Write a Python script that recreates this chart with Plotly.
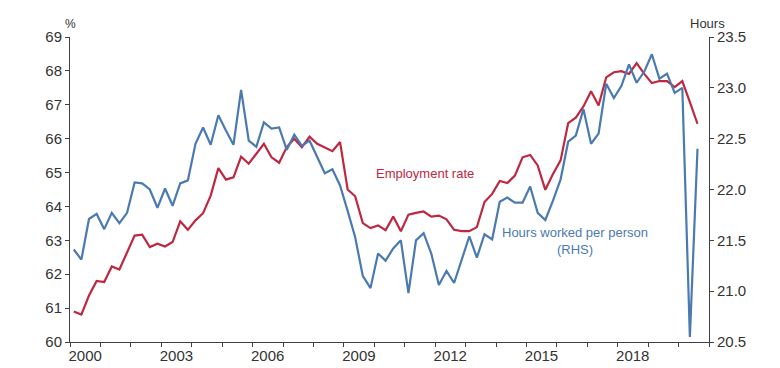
import pandas as pd
import plotly.graph_objects as go

# Quarterly observations, Q1 2000 to Q3 2020
quarters = pd.period_range("2000Q1", "2020Q3", freq="Q")

employment_rate = [
    60.90, 60.81, 61.37, 61.80, 61.77, 62.23, 62.14, 62.62, 63.14, 63.17, 62.80, 62.90, 62.82, 62.95,
    63.56, 63.31, 63.59, 63.80, 64.32, 65.13, 64.79, 64.86, 65.47, 65.26, 65.57, 65.85, 65.45, 65.29,
    65.75, 66.00, 65.75, 66.06, 65.85, 65.75, 65.63, 65.90, 64.50, 64.30, 63.51, 63.36, 63.44, 63.30,
    63.70, 63.27, 63.76, 63.81, 63.85, 63.70, 63.73, 63.62, 63.31, 63.27, 63.27, 63.39, 64.13, 64.37,
    64.75, 64.69, 64.91, 65.45, 65.52, 65.21, 64.49, 64.96, 65.36, 66.46, 66.62, 66.95, 67.40,
    66.98, 67.81, 67.96, 67.99, 67.91, 68.23, 67.91, 67.64, 67.70, 67.70, 67.52, 67.70, 67.08, 66.44,
]

hours_per_person = [
    21.41, 21.31, 21.71, 21.76, 21.61, 21.77, 21.67, 21.77, 22.07, 22.06, 22.00, 21.82, 22.01, 21.84,
    22.06, 22.09, 22.45, 22.61, 22.44, 22.73, 22.58, 22.44, 22.98, 22.48, 22.42, 22.66, 22.60, 22.61,
    22.39, 22.54, 22.43, 22.48, 22.32, 22.16, 22.20, 22.04, 21.79, 21.53, 21.15, 21.03, 21.37, 21.30,
    21.42, 21.50, 20.98, 21.50, 21.57, 21.37, 21.06, 21.20, 21.08, 21.30, 21.54, 21.33, 21.56, 21.51,
    21.88, 21.92, 21.87, 21.87, 22.03, 21.77, 21.70, 21.89, 22.10, 22.47, 22.53, 22.79, 22.45,
    22.55, 23.04, 22.90, 23.02, 23.23, 23.05, 23.16, 23.33, 23.09, 23.14, 22.95, 23.00, 20.55, 22.40,
]

year_labels = ["2000", "2003", "2006", "2009", "2012", "2015", "2018"]
left_ticks = [60, 61, 62, 63, 64, 65, 66, 67, 68, 69]
right_ticks = [20.5, 21.0, 21.5, 22.0, 22.5, 23.0, 23.5]

# mid-quarter dates
x_dates = [(p.start_time + (p.end_time - p.start_time) / 2) for p in quarters]
label_dates = [f"{y}-07-01" for y in year_labels]

RED = "#bf2740"
BLUE = "#4a7ab0"
AX = "#404040"
FONT = "Liberation Sans, Arial, sans-serif"

fig = go.Figure()
fig.add_trace(go.Scatter(x=x_dates, y=employment_rate, mode="lines",
                         line=dict(color=RED, width=2.2), name="Employment rate",
                         yaxis="y"))
fig.add_trace(go.Scatter(x=x_dates, y=hours_per_person, mode="lines",
                         line=dict(color=BLUE, width=2.2), name="Hours worked per person (RHS)",
                         yaxis="y2"))

fig.update_layout(
    width=780, height=368,
    margin=dict(l=70, r=71, t=37, b=26, autoexpand=False),
    paper_bgcolor="white", plot_bgcolor="white",
    showlegend=False,
    font=dict(family=FONT, color="#333333", size=15),
    xaxis=dict(
        type="date",
        range=["2000-01-01", "2021-01-01"],
        tickvals=label_dates, ticktext=year_labels,
        ticks="", showgrid=False, zeroline=False,
        showline=True, linecolor=AX, linewidth=1,
        tickfont=dict(size=15, color="#333333"),
        minor=dict(ticks="outside", dtick="M12", tick0="2000-01-01",
                   ticklen=4, tickcolor=AX, tickwidth=1, showgrid=False),
    ),
    yaxis=dict(
        range=[60, 69], tickvals=left_ticks,
        ticks="outside", ticklen=4, tickcolor=AX,
        showgrid=False, zeroline=False,
        showline=True, linecolor=AX, linewidth=1,
        tickfont=dict(size=15, color="#333333"),
    ),
    yaxis2=dict(
        range=[20.5, 23.5], tickvals=right_ticks, tickformat=".1f",
        overlaying="y", side="right",
        ticks="outside", ticklen=4, tickcolor=AX,
        showgrid=False, zeroline=False,
        showline=True, linecolor=AX, linewidth=1,
        tickfont=dict(size=15, color="#333333"),
    ),
)

fig.add_annotation(text="%", xref="paper", yref="paper", x=0.0, y=1.044,
                   xanchor="center", yanchor="middle",
                   showarrow=False, font=dict(size=12, color="#333333"))
fig.add_annotation(text="Hours", xref="paper", yref="paper", x=0.998, y=1.044,
                   xanchor="center", yanchor="middle",
                   showarrow=False, font=dict(size=13, color="#333333"))
fig.add_annotation(text="Employment rate", xref="paper", yref="paper", x=0.555, y=0.554,
                   xanchor="center", yanchor="middle",
                   showarrow=False, font=dict(size=13, color=RED))
fig.add_annotation(text="Hours worked per person<br>(RHS)", xref="paper", yref="paper",
                   x=0.790, y=0.332, xanchor="center", yanchor="middle",
                   showarrow=False, font=dict(size=13, color=BLUE))

fig.write_html("out.html",
               config={"displayModeBar": False},
               post_script="document.body.style.margin='0';document.body.style.overflow='hidden';")
